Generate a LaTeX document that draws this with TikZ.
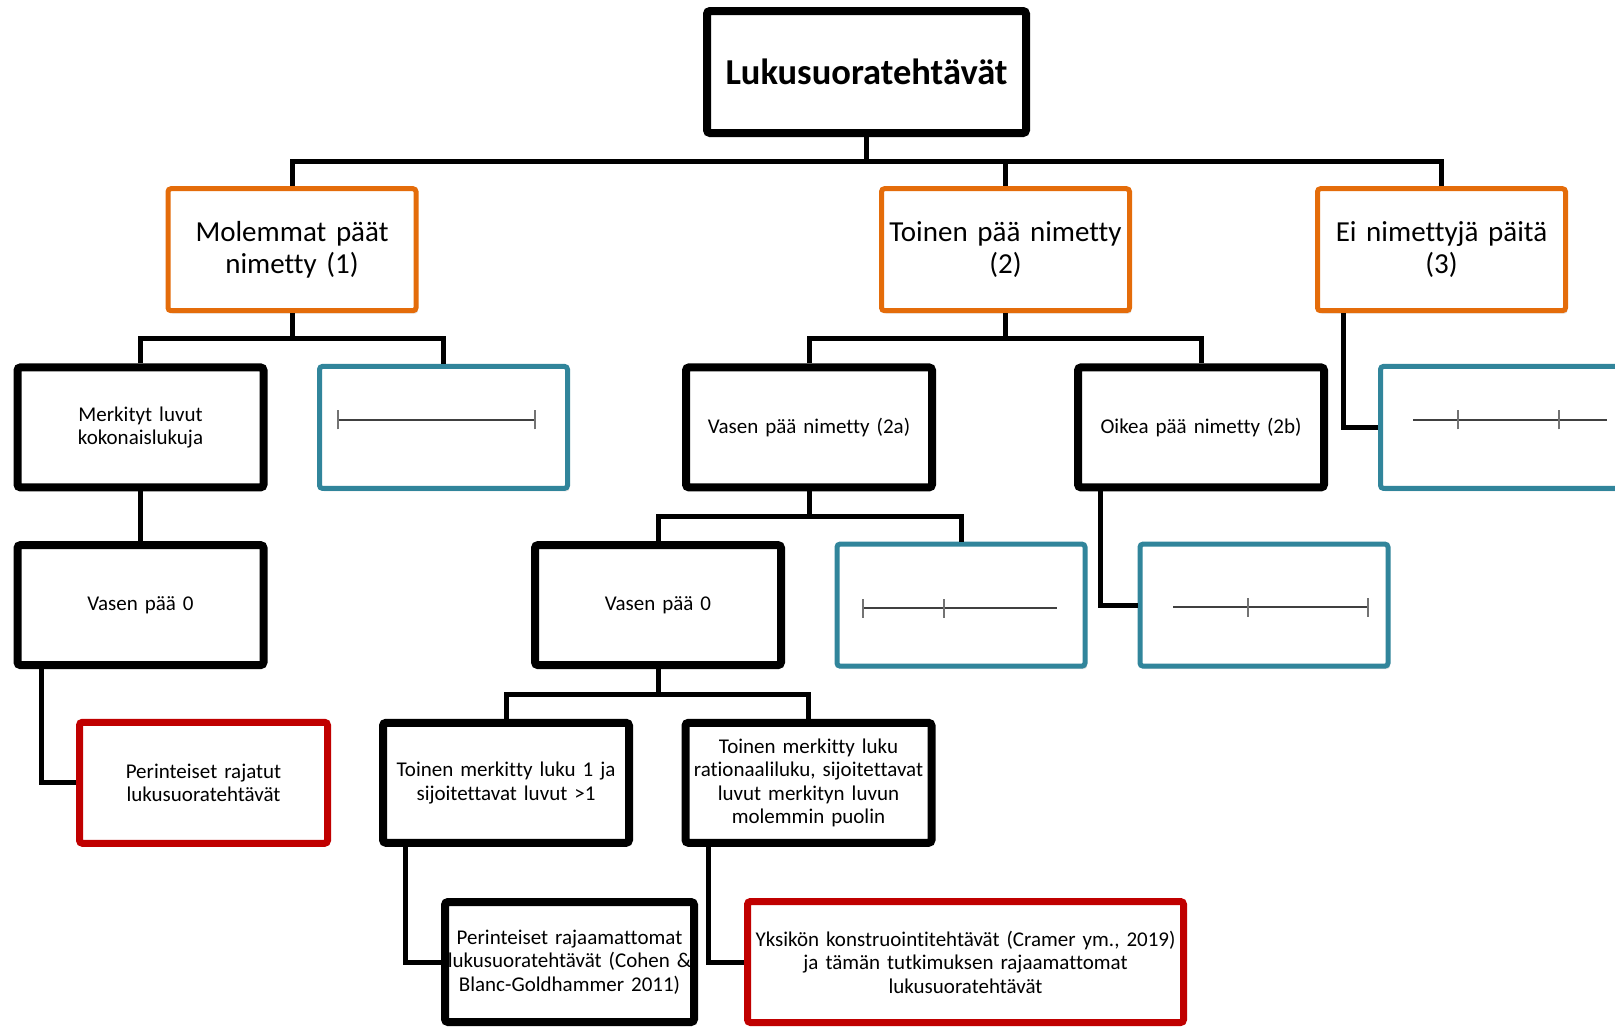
\documentclass[tikz,border=0pt]{standalone}
\usepackage{fontspec}
\setmainfont[Ligatures=NoCommon]{Carlito}
\usetikzlibrary{shadows}

\definecolor{boxorange}{RGB}{228,108,10}
\definecolor{boxblue}{RGB}{49,133,155}
\definecolor{boxred}{RGB}{192,0,0}

\begin{document}
\begin{tikzpicture}[
x=1pt, y=1pt,
node distance=177.7pt,
every node/.style={rectangle, rounded corners=3pt, fill=white, align=center, inner sep=0pt, text width=240pt, minimum width=246pt, minimum height=120pt, font=\fontsize{21}{23.5}\selectfont, drop shadow={shadow xshift=2pt, shadow yshift=-3pt, opacity=0.22}},
black/.style={draw=black, line width=8pt},
orange/.style={draw=boxorange, line width=5pt, minimum width=248pt, minimum height=122pt, font=\fontsize{29}{32}\selectfont},
blue/.style={draw=boxblue, line width=5pt, minimum width=248pt, minimum height=122pt},
red/.style={draw=boxred, line width=7pt, minimum width=248pt, minimum height=121pt},
link/.style={line width=5pt},
numline/.style={draw=black!75, line width=2pt},
tick/.style={draw=black!55, line width=1.6pt}
]

\useasboundingbox (0,0) rectangle (1615,-1026);

\node (root) [black, minimum width=319pt, minimum height=122pt, text width=310pt, font=\fontsize{36.5}{40}\selectfont\bfseries] at (866.5,-72) {Lukusuoratehtävät};

\node (both) [orange, below of=root, xshift=-574.5pt] {Molemmat päät\\nimetty (1)};
\node (one) [orange, below of=root, xshift=139pt] {Toinen pää nimetty\\(2)};
\node (none) [orange, below of=root, xshift=575pt] {Ei nimettyjä päitä\\(3)};

\node (marked) [black, below of=both, xshift=-151.5pt] {Merkityt luvut\\kokonaislukuja};
\node (nl1) [blue, below of=both, xshift=151.5pt] {};
\node (left) [black, below of=one, xshift=-196.5pt] {Vasen pää nimetty (2a)};
\node (right) [black, below of=one, xshift=195.5pt] {Oikea pää nimetty (2b)};
\node (nl3) [blue, below of=none, xshift=63pt] {};

\node (zeroa) [black, below of=marked] {Vasen pää 0};
\node (zerob) [black, below of=left, xshift=-151pt] {Vasen pää 0};
\node (nl2a) [blue, below of=left, xshift=152pt] {};
\node (nl2b) [blue, below of=right, xshift=63pt] {};

\node (bounded) [red, below of=zeroa, xshift=63pt] {Perinteiset rajatut\\lukusuoratehtävät};
\node (second1) [black, below of=zerob, xshift=-152pt] {Toinen merkitty luku 1 ja\\sijoitettavat luvut >1};
\node (second2) [black, below of=zerob, xshift=150.5pt] {Toinen merkitty luku\\rationaaliluku, sijoitettavat\\luvut merkityn luvun\\molemmin puolin};

\node (unbounded) [black, below of=second1, xshift=63.5pt, yshift=-1.5pt, minimum width=249pt] {Perinteiset rajaamattomat\\\makebox[240pt]{lukusuoratehtävät (Cohen \&}\\Blanc-Goldhammer 2011)};
\node (unit) [red, below of=second2, xshift=157pt, yshift=-1.5pt, minimum width=436pt, text width=430pt] {Yksikön konstruointitehtävät (Cramer ym., 2019)\\ja tämän tutkimuksen rajaamattomat\\lukusuoratehtävät};

% number lines
\draw[numline] ([shift={(-105.5,7.5)}]nl1.center) -- ++(197,0);
\draw[tick] ([shift={(-105.5,-2)}]nl1.center) -- ++(0,19);
\draw[tick] ([shift={(91.5,-2)}]nl1.center) -- ++(0,19);

\draw[numline] ([shift={(-91.5,7.5)}]nl3.center) -- ++(194,0);
\draw[tick] ([shift={(-46.5,-2)}]nl3.center) -- ++(0,19);
\draw[tick] ([shift={(54.5,-2)}]nl3.center) -- ++(0,19);

\draw[numline] ([shift={(-98,-3)}]nl2a.center) -- ++(194,0);
\draw[tick] ([shift={(-98,-12.5)}]nl2a.center) -- ++(0,19);
\draw[tick] ([shift={(-17,-12.5)}]nl2a.center) -- ++(0,19);

\draw[numline] ([shift={(-91,-2)}]nl2b.center) -- ++(195,0);
\draw[tick] ([shift={(-16,-11.5)}]nl2b.center) -- ++(0,19);
\draw[tick] ([shift={(104,-11.5)}]nl2b.center) -- ++(0,19);

% connectors
\draw[link] (root.south) -- ++(0,-24) -| (both.north);
\draw[link] (root.south) -- ++(0,-24) -| (one.north);
\draw[link] (root.south) -- ++(0,-24) -| (none.north);

\draw[link] (both.south) -- ++(0,-25) -| (marked.north);
\draw[link] (both.south) -- ++(0,-25) -| (nl1.north);
\draw[link] (one.south) -- ++(0,-25) -| (left.north);
\draw[link] (one.south) -- ++(0,-25) -| (right.north);
\draw[link] ([xshift=28pt]none.south west) |- (nl3.west);

\draw[link] (marked.south) -- (zeroa.north);
\draw[link] (left.south) -- ++(0,-25) -| (zerob.north);
\draw[link] (left.south) -- ++(0,-25) -| (nl2a.north);
\draw[link] ([xshift=26pt]right.south west) |- (nl2b.west);

\draw[link] ([xshift=28pt]zeroa.south west) |- (bounded.west);
\draw[link] (zerob.south) -- ++(0,-25) -| (second1.north);
\draw[link] (zerob.south) -- ++(0,-25) -| (second2.north);

\draw[link] ([xshift=26pt]second1.south west) |- (unbounded.west);
\draw[link] ([xshift=27pt]second2.south west) |- (unit.west);

\end{tikzpicture}
\end{document}
